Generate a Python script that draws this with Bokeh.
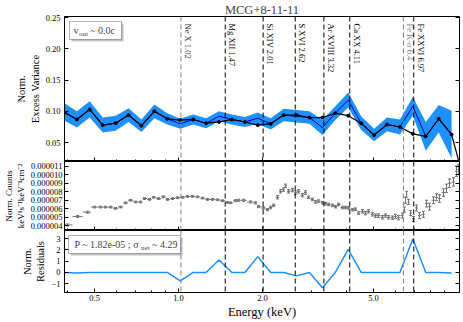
from math import pi
import numpy as np
from bokeh.plotting import figure
from bokeh.layouts import column
from bokeh.models import (Range1d, FixedTicker, PrintfTickFormatter, LinearAxis,
                          Span, Label, BoxAnnotation, Whisker, TeeHead, ColumnDataSource)
from bokeh.embed import file_html
from bokeh.resources import INLINE
from bokeh.core.properties import value

FONT = "Liberation Serif"

TITLE = "MCG+8-11-11"

# ---- top panel: normalised excess variance ----
fvar_energy = [0.390, 0.432, 0.480, 0.535, 0.595, 0.662, 0.736, 0.819, 0.911, 1.014,
               1.128, 1.255, 1.396, 1.554, 1.729, 1.923, 2.140, 2.381, 2.649, 2.947,
               3.279, 3.648, 4.059, 4.516, 5.024, 5.590, 6.219, 6.919, 7.699, 8.565, 9.528]
fvar_data = [0.099, 0.087, 0.103, 0.078, 0.081, 0.094, 0.077, 0.100, 0.088, 0.080,
             0.087, 0.081, 0.092, 0.087, 0.083, 0.089, 0.080, 0.094, 0.092, 0.090,
             0.074, 0.097, 0.118, 0.081, 0.062, 0.079, 0.075, 0.108, 0.060, 0.088, 0.063]
fvar_err = [0.014, 0.013, 0.013, 0.012, 0.012, 0.011, 0.010, 0.011, 0.009, 0.008,
            0.008, 0.008, 0.008, 0.008, 0.008, 0.009, 0.009, 0.010, 0.010, 0.010,
            0.012, 0.011, 0.012, 0.011, 0.010, 0.011, 0.012, 0.015, 0.023, 0.022, 0.038]
model_energy = [0.390, 0.432, 0.480, 0.535, 0.595, 0.662, 0.736, 0.819, 0.911, 1.014,
                1.128, 1.255, 1.396, 1.554, 1.729, 1.923, 2.140, 2.381, 2.649, 2.947,
                3.279, 3.648, 4.059, 4.516, 5.024, 5.590, 6.219, 6.919, 7.699, 8.565, 9.528, 10.4]
model_fvar = [0.098, 0.087, 0.103, 0.078, 0.081, 0.094, 0.077, 0.100, 0.088, 0.086,
              0.087, 0.081, 0.083, 0.087, 0.083, 0.078, 0.080, 0.094, 0.094, 0.090,
              0.090, 0.097, 0.093, 0.081, 0.062, 0.079, 0.075, 0.064, 0.060, 0.088, 0.063, 0.0]

# ---- bottom panel: residuals ----
residuals = [0, -0.05, 0, 0, 0, 0, 0, 0, 0, -0.75,
             0, 0, 1.1, 0, 0, 1.4, 0, 0, -0.3, 0,
             -1.35, 0, 2.05, 0, 0, 0, 0, 2.95, 0, 0, -0.05]

# ---- middle panel: normalised counts (units of 1e-6) ----
spec_energy = [0.400, 0.4345, 0.472, 0.500, 0.525, 0.547, 0.571, 0.594, 0.620, 0.646,
               0.673, 0.702, 0.731, 0.755, 0.787, 0.814, 0.848, 0.884, 0.913, 0.952,
               0.992, 1.034, 1.077, 1.123, 1.170, 1.219, 1.270, 1.324, 1.380, 1.438,
               1.499, 1.536, 1.601, 1.641,
               1.71, 1.812, 1.888, 1.935, 2.017, 2.085, 2.137, 2.191, 2.264, 2.321,
               2.379, 2.418, 2.479, 2.562, 2.627, 2.692, 2.782, 2.852, 2.923, 3.021,
               3.097, 3.175, 3.282, 3.365, 3.449, 3.565, 3.654, 3.746, 3.871, 3.968,
               4.067, 4.204, 4.31, 4.418, 4.566, 4.68, 4.797, 4.958, 5.083, 5.21,
               5.385, 5.52, 5.658, 5.848, 5.995, 6.145, 6.352, 6.457, 6.511, 6.565,
               6.674, 6.785, 6.955, 7.13, 7.308, 7.553, 7.743, 7.937, 8.204, 8.41,
               8.62, 8.91, 9.13, 9.36, 9.68, 9.92, 10.08]
spec_counts = [4.1, 5.1, 5.6, 6.2, 6.2, 6.2, 6.2, 6.05, 6.2, 6.7,
               7.0, 6.8, 6.8, 7.2, 7.1, 7.35, 7.2, 7.4, 7.1, 7.2,
               7.3, 7.35, 7.45, 7.45, 7.4, 7.25, 7.1, 7.1, 7.05, 6.95,
               6.75, 6.7, 6.95, 7.0,
               7.0, 6.8, 6.7, 6.25, 6.1, 5.9, 6.15, 6.4, 7.35, 8.05,
               8.25, 8.7, 8.05, 8.2, 7.9, 8.05, 7.6, 7.9, 7.35, 7.1,
               6.8, 6.9, 6.7, 6.6, 6.5, 6.4, 6.25, 6.5, 6.15, 6.15,
               6.1, 5.9, 5.95, 5.5, 5.7, 5.5, 5.7, 5.35, 5.2, 5.2,
               5.0, 5.2, 5.0, 4.95, 5.1, 4.95, 5.2, 5.9, 7.0, 7.7,
               6.8, 5.5, 4.8, 6.1, 5.2, 5.35, 6.6, 6.25, 7.0, 7.35,
               7.2, 7.9, 8.4, 9.0, 9.15, 10.4, 10.6]
spec_err = [0.12, 0.12, 0.12, 0.1, 0.1, 0.1, 0.1, 0.1, 0.1, 0.1,
            0.1, 0.1, 0.1, 0.1, 0.1, 0.1, 0.1, 0.1, 0.1, 0.1,
            0.1, 0.1, 0.1, 0.1, 0.1, 0.1, 0.1, 0.1, 0.1, 0.1,
            0.1, 0.1, 0.12, 0.12,
            0.12, 0.12, 0.12, 0.12, 0.12, 0.12, 0.15, 0.15, 0.2, 0.2,
            0.2, 0.2, 0.2, 0.2, 0.2, 0.2, 0.2, 0.2, 0.15, 0.15,
            0.15, 0.15, 0.15, 0.15, 0.15, 0.15, 0.15, 0.15, 0.15, 0.15,
            0.15, 0.15, 0.15, 0.15, 0.2, 0.2, 0.2, 0.2, 0.2, 0.2,
            0.2, 0.2, 0.2, 0.2, 0.25, 0.25, 0.3, 0.3, 0.35, 0.35,
            0.3, 0.3, 0.3, 0.35, 0.35, 0.35, 0.4, 0.4, 0.4, 0.4,
            0.45, 0.45, 0.5, 0.5, 0.5, 0.6, 0.6]

# ---- line identifications ----
line_labels = ["Ne X  1.02", "Mg XII  1.47", "Si XIV  2.01", "S XVI  2.62",
               "Ar XVIII  3.32", "Ca XX  4.11", "Fe K-\u03b1  6.4", "Fe XXVI  6.97"]
line_energy = [1.02, 1.47, 2.01, 2.62, 3.32, 4.11, 6.4, 6.97]
line_colors = ["#808080", "black", "black", "black", "black", "black", "#808080", "black"]
line_text_colors = ["#333333", "black", "black", "black", "black", "black", "#808080", "black"]

# ---- axes ----
x_major = [0.5, 1.0, 2.0, 5.0]
x_minor = [0.4, 0.6, 0.7, 0.8, 0.9, 3, 4, 6, 7, 8, 9]
fvar_ticks = [0.05, 0.10, 0.15, 0.20, 0.25]
count_ticks = [4e-6, 5e-6, 6e-6, 7e-6, 8e-6, 9e-6, 10e-6, 11e-6]
resid_ticks = [-1, 0, 1, 2, 3]

X_LO, X_HI = 0.39, 10.17
x_range = Range1d(X_LO, X_HI)
W = 463          # Bokeh's page template has no body margin
LB = 64
RB = 4


def make_fig(height, y_range, yticks, yfmt, ylabel, top=0, bottom=0, show_x=False,
             ylab_size="8.5px", ytitle_size="10.5px", ystand=4):
    p = figure(width=W, height=height, x_axis_type="log",
               x_range=x_range, y_range=y_range, output_backend="svg",
               toolbar_location=None, min_border_left=LB, min_border_right=RB,
               min_border_top=top, min_border_bottom=bottom)
    p.outline_line_color = "black"
    p.outline_line_alpha = 1.0
    p.outline_line_width = 1
    p.xgrid.visible = False
    p.ygrid.visible = False
    p.background_fill_color = "white"
    p.border_fill_color = "white"
    xa = p.xaxis[0]
    xa.ticker = FixedTicker(ticks=x_major, minor_ticks=x_minor)
    xa.formatter = PrintfTickFormatter(format="%.1f")
    xa.major_tick_in = 4
    xa.major_tick_out = 0
    xa.minor_tick_in = 2
    xa.minor_tick_out = 0
    xa.axis_line_color = "black"
    xa.major_tick_line_color = "black"
    xa.minor_tick_line_color = "black"
    xa.major_label_text_font = FONT
    xa.major_label_text_color = "black"
    if show_x:
        xa.major_label_text_font_size = "8.5px"
        xa.major_label_standoff = 2
    else:
        # drawn on the frame's bottom edge, taking no border space
        xa.fixed_location = y_range.start
        xa.major_label_overrides = {t: "" for t in x_major}
        xa.major_label_text_font_size = "0px"
        xa.major_label_standoff = 0
    ya = p.yaxis[0]
    ya.ticker = FixedTicker(ticks=yticks)
    ya.formatter = PrintfTickFormatter(format=yfmt)
    ya.major_tick_in = 4
    ya.major_tick_out = 0
    ya.minor_tick_in = 0
    ya.minor_tick_out = 0
    ya.axis_line_color = "black"
    ya.major_label_text_font = FONT
    ya.major_label_text_font_size = ylab_size
    ya.major_label_text_color = "black"
    ya.major_label_standoff = ystand
    ya.axis_label = ylabel
    ya.axis_label_text_font = FONT
    ya.axis_label_text_font_size = ytitle_size
    ya.axis_label_text_font_style = "normal"
    ya.axis_label_text_color = "black"
    ya.axis_label_standoff = 2
    ra = LinearAxis(ticker=FixedTicker(ticks=yticks), fixed_location=X_HI,
                    major_label_overrides={t: "" for t in yticks},
                    major_label_text_font_size="0px",
                    major_label_standoff=0, major_tick_in=4, major_tick_out=0,
                    minor_tick_in=0, minor_tick_out=0, axis_line_color="black")
    p.add_layout(ra, "right")
    for e, c in zip(line_energy, line_colors):
        p.add_layout(Span(location=e, dimension="height", line_color=c,
                          line_dash="5 3", line_width=1))
    return p


# ---------------- top panel ----------------
H1, H2, H3 = 161, 69, 92
p1 = make_fig(H1, Range1d(0.0198, 0.2516), fvar_ticks, "%.2f", "Norm.\nExcess Variance",
              top=15)
p1.title.text = TITLE
p1.title.align = "center"
p1.title.text_font = FONT
p1.title.text_font_size = "12.5px"
p1.title.text_font_style = "normal"
p1.title.standoff = 0
p1.title.offset = 0
fe = np.array(fvar_energy)
fd = np.array(fvar_data)
ferr = np.array(fvar_err)
p1.varea(x=fe, y1=fd - ferr, y2=fd + ferr, fill_color="#1e90ff", fill_alpha=1.0)
p1.line(fe, fd, line_color="#0000cd", line_width=1)
p1.line(model_energy, model_fvar, line_color="black", line_width=1.2)
p1.scatter(model_energy[:-1], model_fvar[:-1], size=3, color="black")
p1.text(x=line_energy, y=[0.2516] * len(line_energy), text=line_labels,
        angle=-pi / 2, text_font=value(FONT), text_font_size="8.5px",
        text_baseline="bottom", text_align="left", x_offset=2, y_offset=7,
        text_color=line_text_colors)
# v_out box (positions in screen px from the frame's bottom-left)
p1.add_layout(BoxAnnotation(left=7, right=59, top=138, bottom=120,
                            left_units="screen", right_units="screen",
                            top_units="screen", bottom_units="screen",
                            fill_color="#999999", fill_alpha=0.6, line_color=None))
p1.add_layout(BoxAnnotation(left=5, right=57, top=140, bottom=122,
                            left_units="screen", right_units="screen",
                            top_units="screen", bottom_units="screen",
                            fill_color="white", fill_alpha=1.0, line_color="black",
                            line_width=1))
p1.add_layout(Label(x=9, y=131, x_units="screen", y_units="screen", text="v",
                    text_baseline="middle", text_font=FONT, text_font_size="10px"))
p1.add_layout(Label(x=14.5, y=128, x_units="screen", y_units="screen", text="out",
                    text_baseline="middle", text_font=FONT, text_font_size="7px"))
p1.add_layout(Label(x=25.5, y=131, x_units="screen", y_units="screen", text="~ 0.0c",
                    text_baseline="middle", text_font=FONT, text_font_size="10px"))

# ---------------- middle panel ----------------
p2 = make_fig(H2, Range1d(3.45e-6, 11.55e-6), count_ticks, "%.6f",
              "Norm. Counts\nkeV\u00b9s\u207b\u00b9keV\u207b\u00b9cm\u207b\u00b2",
              ylab_size="8.5px", ytitle_size="9px", ystand=2)
se = np.array(spec_energy)
sc = np.array(spec_counts) * 1e-6
serr = np.array(spec_err) * 1e-6
edges = np.sqrt(se[:-1] * se[1:])
lo = np.concatenate([[se[0] ** 2 / edges[0]], edges])
hi = np.concatenate([edges, [se[-1] ** 2 / edges[-1]]])
src = ColumnDataSource(dict(x=se, y=sc, lo=lo, hi=hi, yl=sc - serr, yh=sc + serr))
GREY = "#707070"
p2.segment(x0="lo", y0="y", x1="hi", y1="y", source=src, line_color=GREY, line_width=1)
p2.add_layout(Whisker(source=src, base="x", lower="yl", upper="yh", dimension="height",
                      line_color=GREY, line_width=1,
                      upper_head=TeeHead(size=3, line_color=GREY, line_width=1),
                      lower_head=TeeHead(size=3, line_color=GREY, line_width=1)))

# ---------------- bottom panel ----------------
p3 = make_fig(H3, Range1d(-1.77, 3.71), resid_ticks, "%d", "Norm.\nResiduals",
              bottom=30, show_x=True)
p3.yaxis[0].major_label_overrides = {-1: "\u22121"}
xa3 = p3.xaxis[0]
xa3.axis_label = "Energy (keV)"
xa3.axis_label_text_font = FONT
xa3.axis_label_text_font_size = "12.5px"
xa3.axis_label_text_font_style = "normal"
xa3.axis_label_text_color = "black"
xa3.axis_label_standoff = 1
p3.line(fvar_energy, residuals, line_color="#1e90ff", line_width=1.5)
# P / sigma box
p3.add_layout(BoxAnnotation(left=6, right=118, top=55, bottom=37,
                            left_units="screen", right_units="screen",
                            top_units="screen", bottom_units="screen",
                            fill_color="#999999", fill_alpha=0.6, line_color=None))
p3.add_layout(BoxAnnotation(left=4, right=116, top=57, bottom=39,
                            left_units="screen", right_units="screen",
                            top_units="screen", bottom_units="screen",
                            fill_color="white", fill_alpha=1.0, line_color="black",
                            line_width=1))
p3.add_layout(Label(x=10, y=48, x_units="screen", y_units="screen",
                    text="P ~ 1.82e-05 ; \u03c3", text_baseline="middle",
                    text_font=FONT, text_font_size="10px"))
p3.add_layout(Label(x=76.5, y=45, x_units="screen", y_units="screen",
                    text="net", text_baseline="middle",
                    text_font=FONT, text_font_size="7px"))
p3.add_layout(Label(x=87.5, y=48, x_units="screen", y_units="screen",
                    text="~ 4.29", text_baseline="middle",
                    text_font=FONT, text_font_size="10px"))

layout = column(p1, p2, p3, spacing=0)
open("out.html", "w").write(file_html(layout, INLINE))
